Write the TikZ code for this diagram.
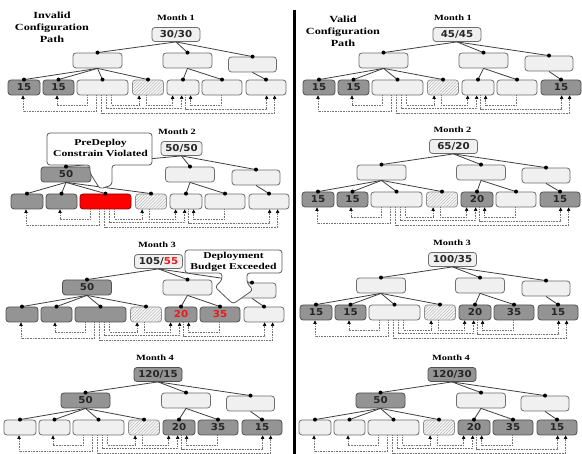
\documentclass[tikz,border=0pt]{standalone}
\usepackage{fontspec}
\setmainfont{Liberation Serif}[FakeStretch=1.3]
\newfontfamily\numfont{DejaVu Sans}[FakeStretch=1.08]
\usetikzlibrary{arrows.meta,patterns.meta}
\definecolor{litefill}{RGB}{240,240,240}
\definecolor{liteedge}{RGB}{110,110,110}
\definecolor{darkfill}{RGB}{148,148,148}
\definecolor{darkedge}{RGB}{80,80,80}
\definecolor{redtxt}{RGB}{235,25,25}
\definecolor{depcol}{RGB}{115,115,115}
\tikzset{
 box/.style={draw=liteedge, line width=0.8pt, rounded corners=3pt, minimum height=15pt, inner sep=0pt, font=\numfont\bfseries\fontsize{9.5}{10}\selectfont, text=black!85},
 lite/.style={box, fill=litefill},
 dark/.style={box, fill=darkfill, draw=darkedge},
 dredt/.style={dark, text=redtxt},
 redbox/.style={box, fill=red, draw=red!55!black},
 hatch/.style={box, fill=black!3, draw=black!45, postaction={pattern={Lines[angle=45,distance=2.2pt,line width=0.35pt]}, pattern color=black!35}},
 mlabel/.style={font=\bfseries\fontsize{8}{9}\selectfont, inner sep=0pt},
 title/.style={font=\bfseries\fontsize{9.4}{12}\selectfont, align=center, inner sep=0pt},
 calltext/.style={font=\bfseries\fontsize{9}{11}\selectfont, align=center, inner sep=0pt},
 callout/.style={draw=black!65, fill=white, line width=0.8pt, rounded corners=3pt},
 edge/.style={draw=black!75, line width=0.8pt},
 dep/.style={draw=depcol, line width=0.7pt, dash pattern=on 0.8pt off 0.8pt, -{Triangle[length=3.6pt,width=3.4pt,color=black]}},
}
\pgfkeys{/pan/.is family}
\pgfkeys{/pan,
 month/.initial=1, root/.initial=, rootst/.initial=lite, rootx/.initial=153, rootw/.initial=48,
 labelx/.initial=151,
 m1/.initial=, m1st/.initial=lite, m1x/.initial=80.5, m1w/.initial=49,
 m2x/.initial=180.5, m3x/.initial=245.5, m3y/.initial=-16.5,
 leaves/.initial={lite/{},lite/{},lite/{},hatch/{},lite/{},lite/{},lite/{}}}
\newcommand\pv[1]{\pgfkeysvalueof{/pan/#1}}
\newcommand\drawpanel[3]{%
 \begin{scope}[shift={#2}]
 \pgfkeys{/pan,#3}%
 \pgfkeysgetvalue{/pan/rootst}{\myrst}%
 \pgfkeysgetvalue{/pan/m1st}{\mymst}%
 \pgfkeysgetvalue{/pan/leaves}{\leaflist}%
 \node[mlabel] (#1-t) at (\pv{labelx},-62) {Month \pv{month}};
 \node[\myrst, minimum width=\pv{rootw}pt, minimum height=14pt] (#1-r) at (\pv{rootx},-45.5) {\pv{root}};
 \node[\mymst, minimum width=\pv{m1w}pt] (#1-m1) at (\pv{m1x},-19.5) {\pv{m1}};
 \node[lite, minimum width=49pt] (#1-m2) at (\pv{m2x},-19.5) {};
 \node[lite, minimum width=48pt] (#1-m3) at (\pv{m3x},\pv{m3y}) {};
 \foreach \st/\tx [count=\i] in \leaflist {
  \pgfmathsetmacro\lcx{{16,50.5,94.5,140,175,214,258}[\i-1]}
  \pgfmathsetmacro\lwd{{32,31,51,31,32,40,40}[\i-1]}
  \node[\st, minimum width=\lwd pt] (#1-l\i) at (\lcx,7.5) {\tx};
 }
 \end{scope}
 \foreach \c in {m1,m2,m3} {\draw[edge] (#1-r.south) -- (#1-\c.north);}
 \foreach \c in {l1,l2,l3,l4} {\draw[edge] (#1-m1.south) -- (#1-\c.north);}
 \foreach \c in {l5,l6} {\draw[edge] (#1-m2.south) -- (#1-\c.north);}
 \draw[edge] (#1-m3.south) -- (#1-l7.north);
 \draw[dep] ([xshift=20pt]#1-l3.south west) -- ++(0,16) -| ([xshift=-1pt]#1-l1.south);
 \draw[dep] ([xshift=11pt]#1-l3.south west) -- ++(0,9.5) -| ([xshift=-1.5pt]#1-l2.south);
 \draw[dep] ([xshift=35pt]#1-l3.south west) -- ++(0,9.5) -| ([xshift=7pt]#1-l4.south west);
 \draw[dep] ([xshift=30pt]#1-l3.south west) -- ++(0,13) -| ([xshift=15pt]#1-l5.south west);
 \draw[dep] ([xshift=25pt]#1-l3.south west) -- ++(0,18) -| ([xshift=29pt]#1-l7.south west);
 \draw[dep] ([xshift=14pt]#1-l4.south west) -- ++(0,9.5) -| ([xshift=6pt]#1-l5.south west);
 \draw[dep] ([xshift=20pt]#1-l6.south west) -- ++(0,9.5) -| ([xshift=24pt]#1-l5.south west);
 \draw[dep] ([xshift=19pt]#1-l5.south west) -- ++(0,13.5) -| ([xshift=21pt]#1-l7.south west);
}
\newcommand\treedots[1]{\foreach \c in {m1,m2,m3,l1,l2,l3,l4,l5,l6,l7} {\fill[black] (#1-\c.north) circle (2pt);}}
\begin{document}
\begin{tikzpicture}[x=1pt,y=-1pt]
\useasboundingbox (0,0) rectangle (582,454);
\fill[white] (0,0) rectangle (582,454);
\node[title] (tl) at (52,27.5) {Invalid\\Configuration\\Path};
\node[title] (tr) at (343,31) {Valid\\Configuration\\Path};
\draw[line width=2.4pt] (294.5,10) -- (294.5,454);
\drawpanel{L1}{(8,80)}{month=1, root=30/30, rootx=168, labelx=168, m1x=89.5, m2x=179.5, m3x=244.5, m3y=-15.5, leaves={dark/15,dark/15,lite/{},hatch/{},lite/{},lite/{},lite/{}}}
\drawpanel{L2}{(11,194)}{month=2, root=50/50, rootx=170.5, rootw=41, labelx=166, m1=50, m1st=dark, m1x=55, m1w=50, m2x=179, m3x=245, leaves={dark/{},dark/{},redbox/{},hatch/{},lite/{},lite/{},lite/{}}}
\drawpanel{L3}{(6,307)}{month=3, root={105/\textcolor{redtxt}{55}}, rootx=152.5, labelx=151, m1=50, m1st=dark, m1x=81, m2x=181.5, m3x=246, leaves={dark/{},dark/{},dark/{},hatch/{},dredt/20,dredt/35,lite/{}}}
\drawpanel{L4}{(4,420)}{month=4, root=120/15, rootst=dark, rootx=154, labelx=151, m1=50, m1st=dark, m1x=81.5, m2x=182, m3x=246.5, leaves={lite/{},lite/{},lite/{},hatch/{},dark/20,dark/35,dark/15}}
\drawpanel{R1}{(303,80)}{month=1, root=45/45, rootx=154, labelx=150, m1x=80.5, m2x=180.5, m3x=246, leaves={dark/15,dark/15,lite/{},hatch/{},lite/{},lite/{},dark/15}}
\drawpanel{R2}{(302,192)}{month=2, root=65/20, rootx=151.5, labelx=150.5, m1x=79.5, m2x=179, m3x=244, leaves={dark/15,dark/15,lite/{},hatch/{},dark/20,lite/{},dark/15}}
\drawpanel{R3}{(300,305)}{month=3, root=100/35, rootx=152.5, labelx=152, m1x=81, m2x=180, m3x=246, leaves={dark/15,dark/15,lite/{},hatch/{},dark/20,dark/35,dark/15}}
\drawpanel{R4}{(299,420)}{month=4, root=120/30, rootst=dark, rootx=153, labelx=152, m1=50, m1st=dark, m1x=81.5, m2x=182, m3x=246, leaves={lite/{},lite/{},lite/{},hatch/{},dark/20,dark/35,dark/15}}
% callouts
\draw[callout] (90,165) -- (47,165) -- (47,133) -- (152,133) -- (152,165) -- (112,165) -- (112,185) -- (100,189) -- (90,173) -- cycle;
\node[calltext] (cv) at (100.5,147.5) {PreDeploy\\Constrain Violated};
\draw[callout] (222,273) -- (185,273) -- (185,250) -- (282,250) -- (282,273) -- (247,273) -- (247,283) -- (253,290) -- (233,304) -- (215,287) -- (222,280) -- cycle;
\node[calltext] (be) at (233.5,261.5) {Deployment\\Budget Exceeded};
\foreach \p in {L1,L2,L3,L4,R1,R2,R3,R4} {\treedots{\p}}
\end{tikzpicture}
\end{document}
